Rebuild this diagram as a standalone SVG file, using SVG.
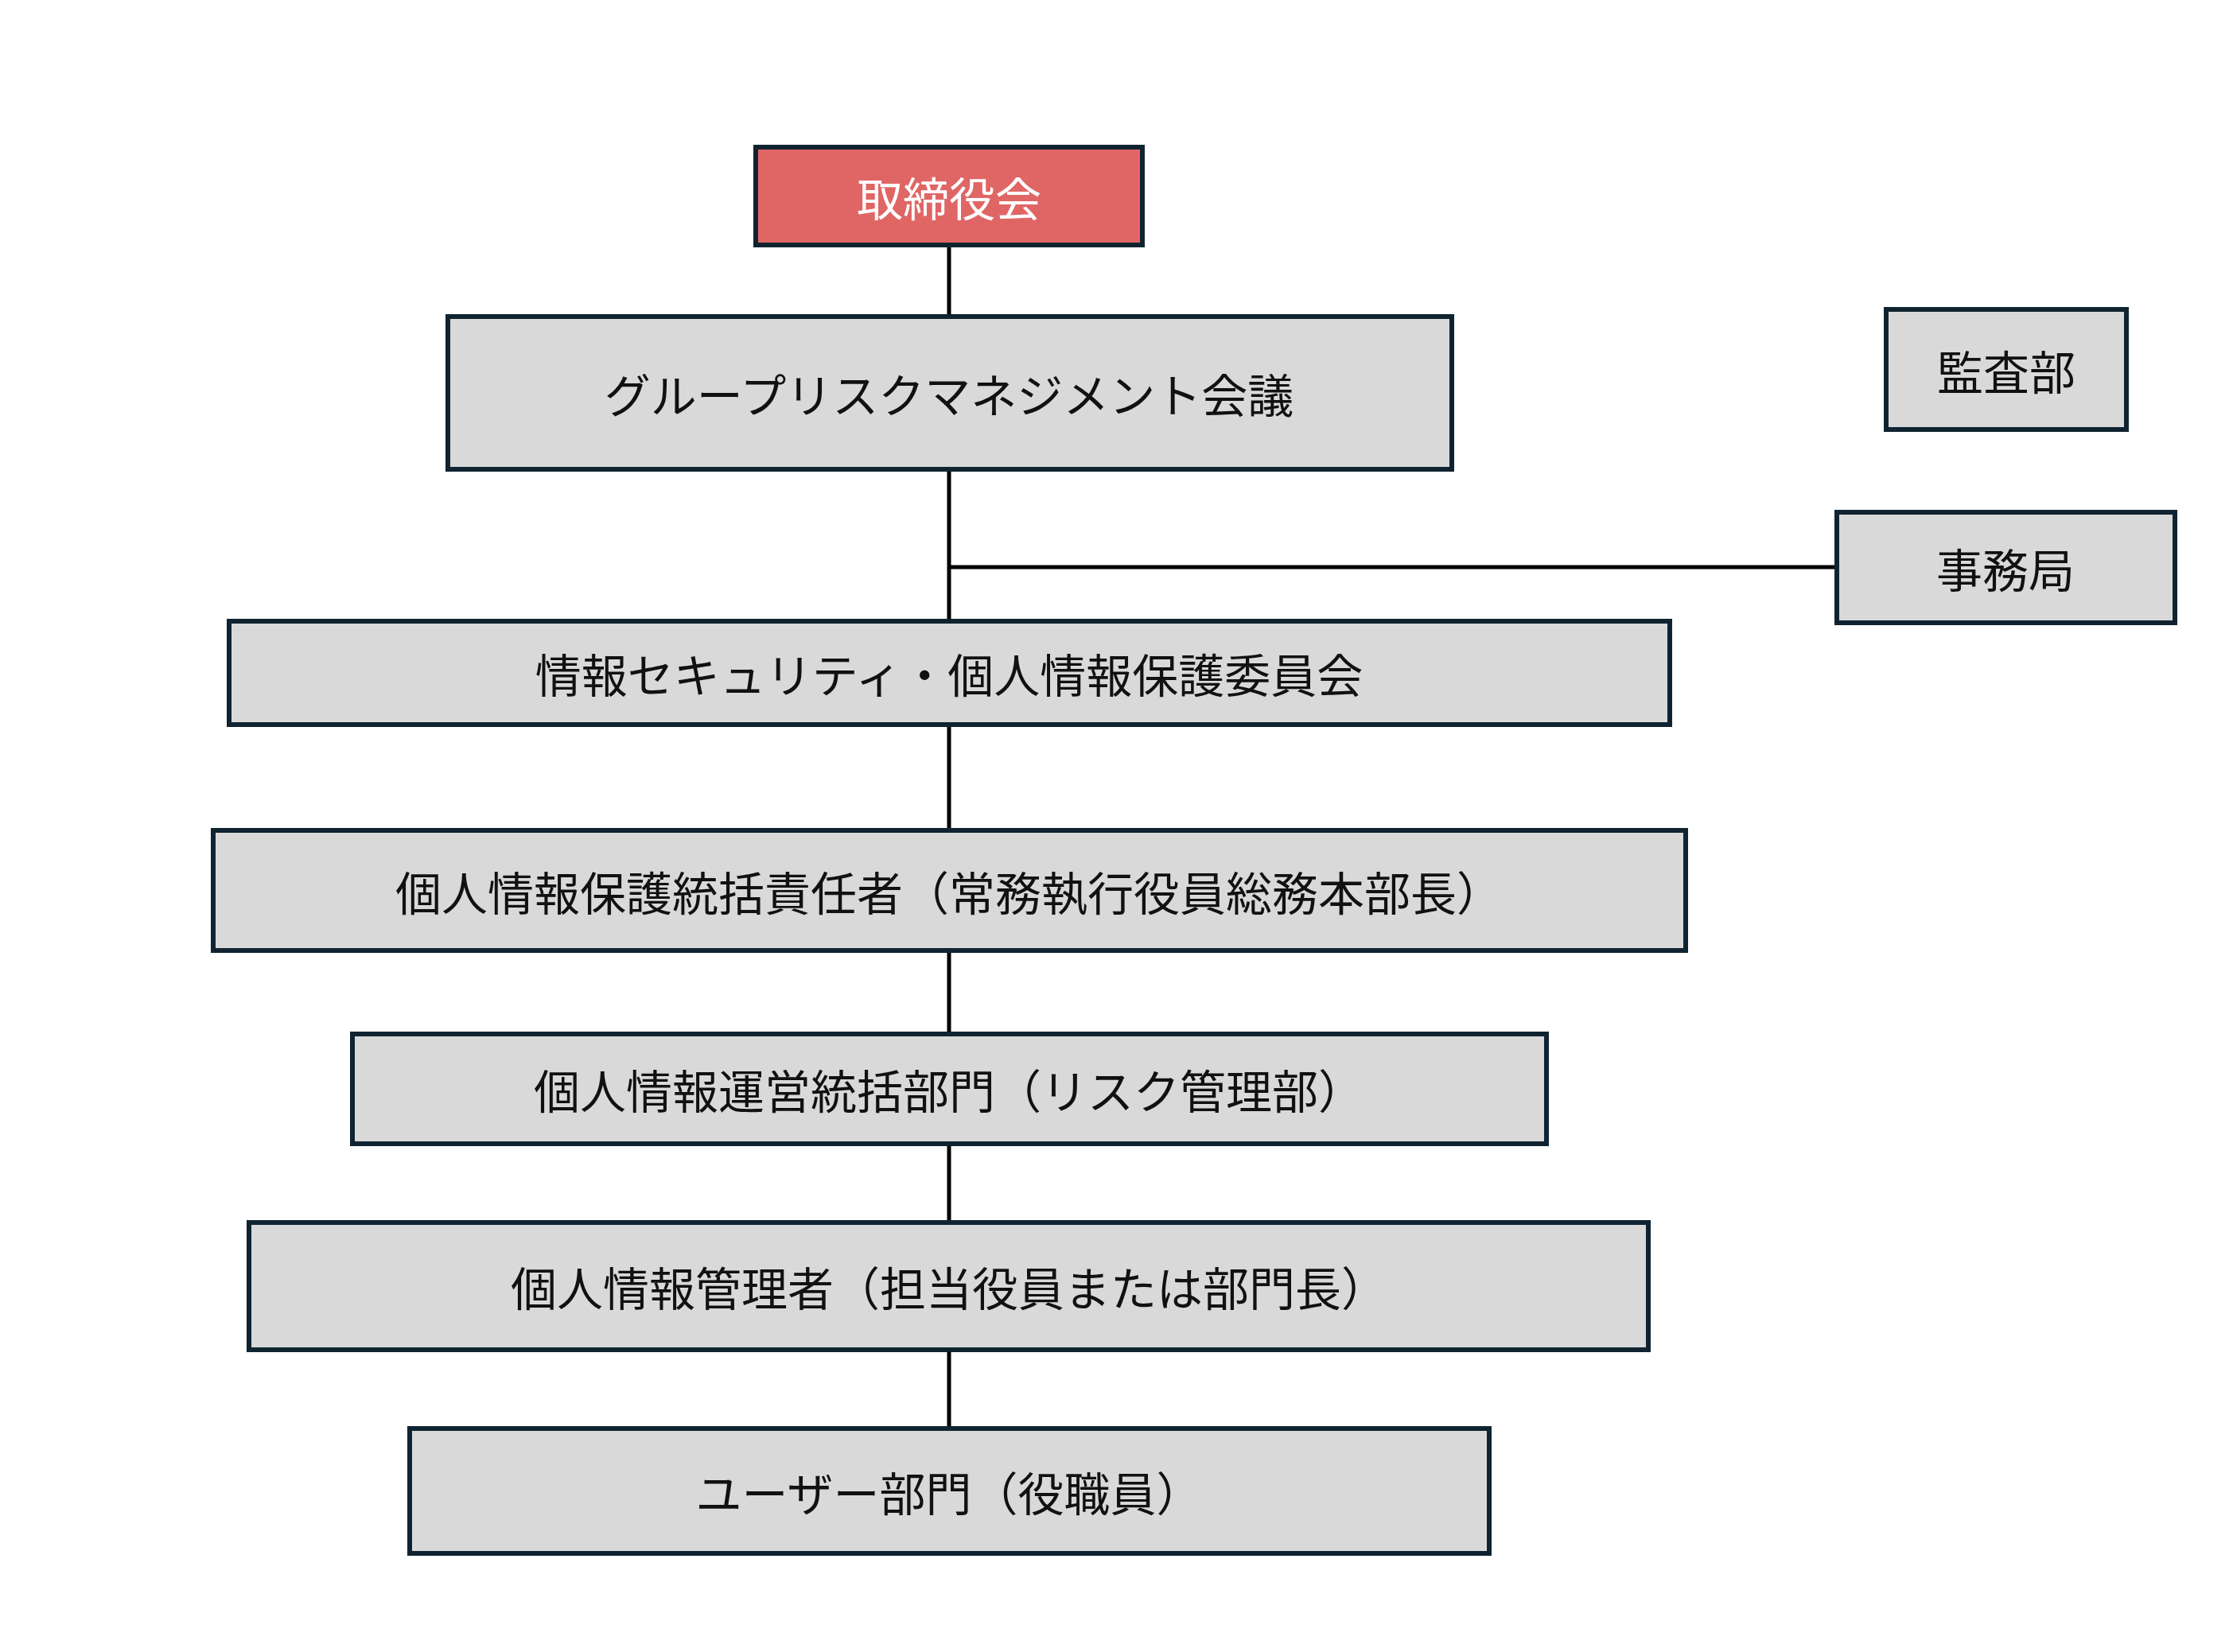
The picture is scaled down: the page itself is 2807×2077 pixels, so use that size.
<svg xmlns="http://www.w3.org/2000/svg" width="2807" height="2077" viewBox="0 0 2807 2077">
<style>
.n{fill:#D9D9D9;stroke:#0F2430;stroke-width:6}
.r{fill:#E06666;stroke:#0F2430;stroke-width:6}
.t{font-family:"Noto Sans CJK JP","Noto Sans",sans-serif;font-size:58px;fill:#111;text-anchor:middle;dominant-baseline:central}
.c{stroke:#000;stroke-width:5;fill:none}
</style>
<rect width="2807" height="2077" fill="#fff"/>
<g id="connectors">
<line class="c" x1="1193" y1="308" x2="1193" y2="1796"/>
<line class="c" x1="1193" y1="713" x2="2309" y2="713"/>
</g>
<g id="board"><rect class="r" x="950" y="185" width="486" height="123"/><text class="t" x="1193" y="247" fill="#fff" style="fill:#fff">取締役会</text></g>
<g id="grm"><rect class="n" x="563" y="398" width="1262" height="192"/><text class="t" x="1193" y="494">グループリスクマネジメント会議</text></g>
<g id="audit"><rect class="n" x="2371" y="389" width="302" height="151"/><text class="t" x="2522" y="465">監査部</text></g>
<g id="office"><rect class="n" x="2309" y="644" width="425" height="139"/><text class="t" x="2521" y="714">事務局</text></g>
<g id="committee"><rect class="n" x="288" y="781" width="1811" height="130"/><text class="t" x="1193" y="846">情報セキュリティ・個人情報保護委員会</text></g>
<g id="cpo"><rect class="n" x="268" y="1044" width="1851" height="151"/><text class="t" x="1193" y="1120">個人情報保護統括責任者（常務執行役員総務本部長）</text></g>
<g id="ops"><rect class="n" x="443" y="1300" width="1501" height="138"/><text class="t" x="1193" y="1369">個人情報運営統括部門（リスク管理部）</text></g>
<g id="mgr"><rect class="n" x="313" y="1537" width="1759" height="160"/><text class="t" x="1193" y="1617">個人情報管理者（担当役員または部門長）</text></g>
<g id="user"><rect class="n" x="515" y="1796" width="1357" height="157"/><text class="t" x="1193" y="1875">ユーザー部門（役職員）</text></g>
</svg>
